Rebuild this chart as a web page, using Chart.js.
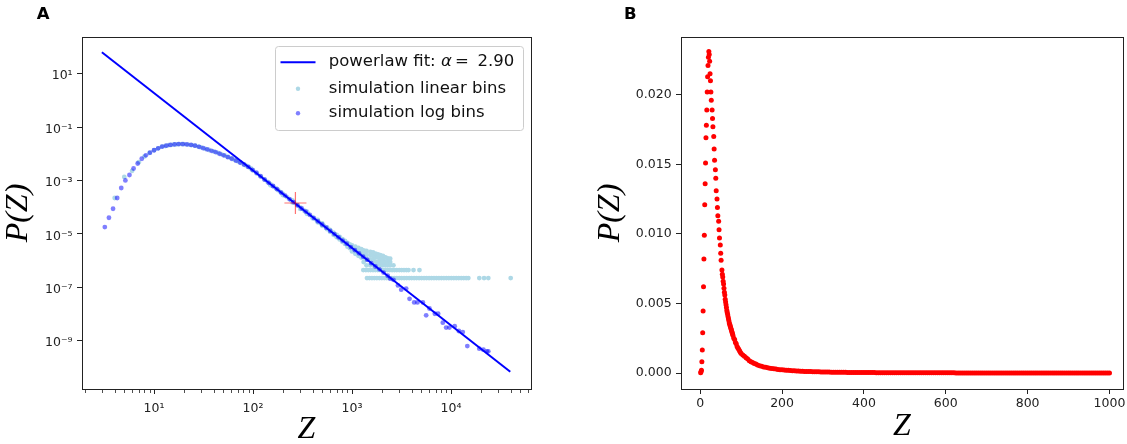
<!DOCTYPE html>
<html>
<head>
<meta charset="utf-8">
<title>P(Z)</title>
<script src="https://cdn.jsdelivr.net/npm/chart.js@4.4.1/dist/chart.umd.min.js"></script>
<style>
  html, body { margin: 0; padding: 0; background: #fff; }
  #wrap { position: relative; width: 1127px; height: 444px; overflow: hidden; }
  canvas { position: absolute; top: 0; }
</style>
</head>
<body>
<div id="wrap">
  <canvas id="chartA" width="563" height="444" style="left:0"></canvas>
  <canvas id="chartB" width="564" height="444" style="left:563px"></canvas>
</div>
<script>
// ---------------- DATA: panel A (log-log) ----------------
const fitLabel = 'powerlaw fit: α\u2009=\u2009 2.90';
const linLabel = 'simulation linear bins';
const logLabel = 'simulation log bins';

// powerlaw fit, two ends of the straight line
const fitZ = [2.97, 39700];
const fitP = [63, 6.85e-11];

// red cross
const crossZ = [268];
const crossP = [1.43e-4];

// log bins
const logZ = [3.18, 3.50, 3.85, 4.24, 4.66, 5.13, 5.64, 6.21, 6.83, 7.51, 8.26, 9.09, 10.0,
  11.0, 12.1, 13.3, 14.6, 16.1, 17.7, 19.5, 21.4, 23.6, 25.9, 28.5, 31.4, 34.5, 38.0, 41.8, 45.9,
  50.5, 55.6, 61.1, 67.3, 74.0, 81.4, 89.5, 98.5,
  108, 119, 131, 144, 159, 175, 192, 211, 233, 256, 281, 310, 340, 375, 412, 453, 499, 548,
  603, 664, 730, 803, 883, 972,
  1069, 1176, 1294, 1423, 1565, 1722, 1894, 2083, 2292,
  2432, 2624, 2911, 3141, 3524, 3811, 4246, 4581, 5200, 5610, 6053, 6871, 7413, 8260, 8933,
  9638, 10900, 12000, 13150, 14620, 19320, 21230, 22960, 23820];
const logP = [1.8e-5, 4.0e-5, 8.7e-5, 2.2e-4, 5.2e-4, 1.0e-3, 1.6e-3, 2.8e-3, 4.3e-3, 6.5e-3, 8.7e-3, 1.1e-2, 1.35e-2,
  1.6e-2, 1.86e-2, 2.0e-2, 2.14e-2, 2.24e-2, 2.29e-2, 2.29e-2, 2.24e-2, 2.14e-2, 2.0e-2, 1.82e-2, 1.62e-2, 1.45e-2, 1.29e-2, 1.15e-2, 1.0e-2,
  8.7e-3, 7.4e-3, 6.5e-3, 5.5e-3, 4.7e-3, 3.9e-3, 3.2e-3, 2.5e-3,
  1.95e-3, 1.45e-3, 1.07e-3, 8.1e-4, 6.2e-4, 4.7e-4, 3.5e-4, 2.7e-4, 2.0e-4, 1.55e-4, 1.17e-4, 8.9e-5, 6.8e-5, 5.1e-5, 3.9e-5, 2.95e-5, 2.24e-5, 1.7e-5,
  1.29e-5, 9.8e-6, 7.4e-6, 5.6e-6, 4.3e-6, 3.2e-6,
  2.45e-6, 1.86e-6, 1.4e-6, 1.07e-6, 8.0e-7, 6.0e-7, 4.7e-7, 3.55e-7, 2.7e-7,
  2.1e-7, 1.9e-7, 1.17e-7, 8.1e-8, 8.9e-8, 3.7e-8, 2.7e-8, 2.7e-8, 2.7e-8, 8.9e-9, 1.6e-8, 1.02e-8, 1.02e-8, 4.7e-9, 3.1e-9,
  3.1e-9, 3.5e-9, 2.3e-9, 2.1e-9, 6.3e-10, 5.0e-10, 4.6e-10, 4.0e-10, 4.0e-10];

// linear bins: along the curve
const curveZ = [4, 5, 6, 7, 8, 9, 10, 11, 12, 13, 14, 15, 16, 17, 18, 19, 20,
  22, 24, 26, 28, 30, 33, 36, 40, 44, 48, 52, 56, 60, 65, 70, 75, 80, 85, 90, 95,
  100, 110, 120, 130, 140, 150, 160, 170, 180, 190, 200, 220, 240, 260, 280, 300,
  330, 360, 400, 440, 480, 520];
const curveP = [2.2e-4, 1.35e-3, 2.3e-3, 4.8e-3, 7.9e-3, 1.07e-2, 1.35e-2, 1.6e-2, 1.86e-2, 1.95e-2, 2.09e-2, 2.16e-2, 2.24e-2, 2.26e-2, 2.29e-2, 2.29e-2, 2.28e-2,
  2.21e-2, 2.11e-2, 2.0e-2, 1.86e-2, 1.72e-2, 1.51e-2, 1.38e-2, 1.22e-2, 1.08e-2, 9.5e-3, 8.5e-3, 7.6e-3, 6.8e-3, 5.9e-3, 5.2e-3, 4.6e-3, 4.1e-3, 3.6e-3, 3.2e-3, 2.8e-3,
  2.36e-3, 1.79e-3, 1.39e-3, 1.1e-3, 8.9e-4, 7.3e-4, 6.0e-4, 5.06e-4, 4.28e-4, 3.66e-4, 3.15e-4, 2.39e-4, 1.86e-4, 1.47e-4, 1.19e-4, 9.7e-5,
  7.4e-5, 5.7e-5, 4.2e-5, 3.2e-5, 2.49e-5, 1.98e-5];
// linear bins: spread around the line
const haloZ = [150, 200, 250, 300, 350, 400, 450, 500, 250, 350, 450, 500];
const haloP = [6.6e-4, 2.85e-4, 1.5e-4, 8.6e-5, 5.6e-5, 3.8e-5, 2.7e-5, 2.0e-5, 1.8e-4, 6.8e-5, 3.3e-5, 2.45e-5];
// linear bins: the wide cloud before the single-count floor
const cloudZ = [560, 560, 600, 600, 650, 650, 700, 700, 750, 750, 800, 800, 850, 850, 900, 900, 950, 950,
  1000, 1000, 1000, 1080, 1080, 1080, 1160, 1160, 1160, 1240, 1240, 1240,
  1310, 1310, 1310, 1310, 1400, 1400, 1400, 1400, 1530, 1530, 1530, 1530, 1630, 1630, 1630, 1630,
  1730, 1730, 1730, 1730, 1830, 1830, 1830, 1830, 1930, 1930, 1930, 1930, 2050, 2050, 2050, 2050,
  2180, 2180, 2180, 2300, 2300, 2300, 2430, 2430, 2430, 2620];
const cloudP = [1.5e-5, 1.75e-5, 1.2e-5, 1.42e-5, 9.2e-6, 1.12e-5, 7.5e-6, 9.2e-6, 6.2e-6, 7.7e-6, 5.0e-6, 6.4e-6, 4.2e-6, 5.5e-6, 3.3e-6, 4.6e-6, 2.9e-6, 4.0e-6,
  2.2e-6, 2.9e-6, 3.7e-6, 1.8e-6, 2.5e-6, 3.3e-6, 1.5e-6, 2.2e-6, 3.0e-6, 1.3e-6, 2.0e-6, 2.7e-6,
  8.8e-7, 1.3e-6, 1.8e-6, 2.4e-6, 6.6e-7, 1.1e-6, 1.6e-6, 2.3e-6, 6.6e-7, 1.1e-6, 1.6e-6, 2.1e-6, 6.6e-7, 1.1e-6, 1.5e-6, 2.0e-6,
  6.6e-7, 8.8e-7, 1.3e-6, 1.8e-6, 6.6e-7, 8.8e-7, 1.3e-6, 1.7e-6, 6.6e-7, 8.8e-7, 1.1e-6, 1.58e-6, 6.6e-7, 8.8e-7, 1.1e-6, 1.5e-6,
  6.6e-7, 8.8e-7, 1.3e-6, 6.6e-7, 8.8e-7, 1.2e-6, 6.6e-7, 8.8e-7, 1.17e-6, 6.6e-7];
// linear bins: two-count and one-count floors
const band2P = 4.4e-7;
const band2Z = [1300, 1380, 1460, 1540, 1630, 1720, 1820, 1920, 2030, 2150, 2270, 2400, 2540, 2680,
  2830, 3000, 3170, 3350, 3540, 3720, 4180, 4800];
const band1P = 2.2e-7;
const band1Z = [1416, 1500, 1590, 1680, 1780, 1890, 2000, 2120, 2240, 2380, 2520, 2670, 2830, 3000,
  3170, 3360, 3560, 3780, 4000, 4240, 4490, 4760, 5040, 5340, 5660, 6000, 6350, 6730, 7130, 7550,
  8000, 8480, 8980, 9510, 10080, 10680, 11310, 11980, 12700, 13450, 14250, 14970,
  19320, 21580, 23820, 40100];

const xTickValsA = [10, 100, 1000, 10000];
const xTickLabelsA = ['10¹', '10²', '10³', '10⁴'];
const yTickValsA = [1e-9, 1e-7, 1e-5, 1e-3, 1e-1, 10];
const yTickLabelsA = ['10⁻⁹', '10⁻⁷', '10⁻⁵', '10⁻³', '10⁻¹', '10¹'];

// ---------------- DATA: panel B (linear) ----------------
const bHeadZ = [1, 2, 3, 4, 5, 6, 7, 8, 9, 10, 11, 12, 13, 14, 15, 16, 17, 18, 19, 20, 21,
  22, 23, 24, 25, 26, 27, 29, 30, 31, 33, 34, 35, 37, 38, 39, 41, 42, 43, 45, 46, 47, 49, 50, 51,
  53, 54, 55, 56, 57, 58, 59, 60, 61, 62, 63, 64, 65, 66, 67, 68, 69, 70, 71, 72, 73, 74, 75, 76, 77, 78, 79, 80,
  82, 84, 86, 88, 90, 92, 94, 96, 98, 100,
  104, 108, 112, 116, 120, 124, 128, 132, 136, 140, 145, 150, 155, 160, 165, 170, 175, 180, 185, 190, 195, 200];
const bHeadP = [0.00002, 0.00009, 0.0002, 0.0008, 0.00165, 0.0029, 0.00445, 0.0062, 0.0082, 0.0099, 0.0121, 0.0136, 0.0151, 0.0169, 0.0178, 0.0189, 0.0202, 0.0213, 0.0221, 0.0227, 0.0231,
  0.0229, 0.0224, 0.0215, 0.0210, 0.0202, 0.0196, 0.0189, 0.0183, 0.0177, 0.0170, 0.0161, 0.0153, 0.0146, 0.0140, 0.0131, 0.0125, 0.0119, 0.0113, 0.0109, 0.0103, 0.0097, 0.0092, 0.0086, 0.0081,
  0.0074, 0.0071, 0.0069, 0.0066, 0.0064, 0.0061, 0.0058, 0.0056, 0.0053, 0.0051, 0.0049, 0.0047, 0.0045, 0.00435, 0.0042, 0.00405, 0.0039, 0.00375, 0.0036, 0.0035, 0.0034, 0.0033, 0.0032, 0.0031, 0.0030, 0.0029, 0.0028, 0.0027,
  0.0025, 0.0024, 0.0022, 0.0021, 0.0019, 0.0018, 0.0017, 0.0016, 0.0015, 0.0014,
  0.0013, 0.0012, 0.0011, 0.0010, 0.00088, 0.00081, 0.00075, 0.00069, 0.00064, 0.00058, 0.00053, 0.00048, 0.00044, 0.00041, 0.00038, 0.00035, 0.00032, 0.00030, 0.00028, 0.00026, 0.00024, 0.00023];
const bTailZ = [205, 210, 215, 220, 225, 230, 235, 240, 245, 250, 255, 260, 265, 270, 275, 280, 285, 290, 295, 300,
  305, 310, 315, 320, 325, 330, 335, 340, 345, 350, 355, 360, 365, 370, 375, 380, 385, 390, 395, 400,
  405, 410, 415, 420, 425, 430, 435, 440, 445, 450, 455, 460, 465, 470, 475, 480, 485, 490, 495, 500,
  505, 510, 515, 520, 525, 530, 535, 540, 545, 550, 555, 560, 565, 570, 575, 580, 585, 590, 595, 600,
  605, 610, 615, 620, 625, 630, 635, 640, 645, 650, 655, 660, 665, 670, 675, 680, 685, 690, 695, 700,
  705, 710, 715, 720, 725, 730, 735, 740, 745, 750, 755, 760, 765, 770, 775, 780, 785, 790, 795, 800,
  805, 810, 815, 820, 825, 830, 835, 840, 845, 850, 855, 860, 865, 870, 875, 880, 885, 890, 895, 900,
  905, 910, 915, 920, 925, 930, 935, 940, 945, 950, 955, 960, 965, 970, 975, 980, 985, 990, 995, 1000];
const bTailP = [2.15e-4, 2.0e-4, 1.9e-4, 1.8e-4, 1.7e-4, 1.6e-4, 1.5e-4, 1.4e-4, 1.3e-4, 1.2e-4, 1.15e-4, 1.1e-4, 1.05e-4, 1.0e-4, 9.5e-5, 9.0e-5, 8.6e-5, 8.2e-5, 7.8e-5, 7.5e-5,
  7.1e-5, 6.8e-5, 6.5e-5, 6.2e-5, 5.9e-5, 5.7e-5, 5.4e-5, 5.2e-5, 5.0e-5, 4.8e-5, 4.6e-5, 4.4e-5, 4.25e-5, 4.1e-5, 3.95e-5, 3.8e-5, 3.65e-5, 3.5e-5, 3.35e-5, 3.2e-5,
  3.1e-5, 3.0e-5, 2.9e-5, 2.8e-5, 2.7e-5, 2.6e-5, 2.5e-5, 2.4e-5, 2.35e-5, 2.3e-5, 2.2e-5, 2.1e-5, 2.05e-5, 2.0e-5, 1.95e-5, 1.9e-5, 1.85e-5, 1.8e-5, 1.75e-5, 1.7e-5,
  1.65e-5, 1.6e-5, 1.55e-5, 1.5e-5, 1.45e-5, 1.4e-5, 1.38e-5, 1.35e-5, 1.32e-5, 1.3e-5, 1.25e-5, 1.2e-5, 1.18e-5, 1.15e-5, 1.12e-5, 1.1e-5, 1.08e-5, 1.05e-5, 1.02e-5, 1.0e-5,
  9.7e-6, 9.5e-6, 9.3e-6, 9.1e-6, 8.9e-6, 8.7e-6, 8.5e-6, 8.3e-6, 8.1e-6, 7.9e-6, 7.7e-6, 7.6e-6, 7.4e-6, 7.3e-6, 7.1e-6, 7.0e-6, 6.8e-6, 6.7e-6, 6.5e-6, 6.4e-6,
  6.2e-6, 6.1e-6, 6.0e-6, 5.9e-6, 5.8e-6, 5.7e-6, 5.6e-6, 5.5e-6, 5.4e-6, 5.3e-6, 5.2e-6, 5.1e-6, 5.0e-6, 4.9e-6, 4.8e-6, 4.7e-6, 4.6e-6, 4.5e-6, 4.45e-6, 4.4e-6,
  4.3e-6, 4.2e-6, 4.15e-6, 4.1e-6, 4.0e-6, 3.9e-6, 3.85e-6, 3.8e-6, 3.75e-6, 3.7e-6, 3.6e-6, 3.5e-6, 3.45e-6, 3.4e-6, 3.35e-6, 3.3e-6, 3.25e-6, 3.2e-6, 3.15e-6, 3.1e-6,
  3.05e-6, 3.0e-6, 2.95e-6, 2.9e-6, 2.85e-6, 2.8e-6, 2.75e-6, 2.7e-6, 2.68e-6, 2.65e-6, 2.62e-6, 2.6e-6, 2.55e-6, 2.5e-6, 2.45e-6, 2.4e-6, 2.38e-6, 2.35e-6, 2.32e-6, 2.3e-6];

const xTickValsB = [0, 200, 400, 600, 800, 1000];
const xTickLabelsB = ['0', '200', '400', '600', '800', '1000'];
const yTickValsB = [0, 0.005, 0.010, 0.015, 0.020];
const yTickLabelsB = ['0.000', '0.005', '0.010', '0.015', '0.020'];

// ---------------- HELPERS ----------------
function pts(xs, ys) {
  return xs.map((x, i) => ({ x: x, y: Array.isArray(ys) ? ys[i] : ys }));
}

Chart.defaults.font.family = "'DejaVu Sans', sans-serif";
Chart.defaults.color = '#222';

const tickFont = { size: 12.5 };
const titleFont = { family: "'Liberation Serif', serif", size: 32, style: 'italic', lineHeight: 1 };
const gridOpts = { drawOnChartArea: false, drawTicks: true, tickLength: 5, color: '#222', lineWidth: 1 };

// axes box on all four sides
const frame = {
  id: 'frame',
  afterDatasetsDraw(chart) {
    const { ctx, chartArea: a } = chart;
    const l = Math.round(a.left), t = Math.round(a.top), r = Math.round(a.right), b = Math.round(a.bottom);
    ctx.save();
    ctx.strokeStyle = '#222';
    ctx.lineWidth = 1;
    ctx.strokeRect(l + 0.5, t + 0.5, r - l, b - t);
    ctx.restore();
  }
};

// short minor ticks on the log x axis
const minorTicks = {
  id: 'minorTicks',
  afterDraw(chart) {
    const sc = chart.scales.x, ctx = chart.ctx;
    ctx.save();
    ctx.strokeStyle = '#222';
    ctx.lineWidth = 0.8;
    for (let e = 0; e <= 4; e++) {
      for (let m = 2; m <= 9; m++) {
        const v = m * Math.pow(10, e);
        if (v < sc.min || v > sc.max) continue;
        const px = Math.round(sc.getPixelForValue(v)) + 0.5;
        ctx.beginPath();
        ctx.moveTo(px, sc.top + 1);
        ctx.lineTo(px, sc.top + 4);
        ctx.stroke();
      }
    }
    ctx.restore();
  }
};

// "A" / "B"
const panelLetter = {
  id: 'panelLetter',
  afterDraw(chart, args, o) {
    const ctx = chart.ctx;
    ctx.save();
    ctx.font = "bold 16.5px 'DejaVu Sans'";
    ctx.fillStyle = '#000';
    ctx.textBaseline = 'alphabetic';
    ctx.fillText(o.text, o.x, o.y);
    ctx.restore();
  }
};

// label text, alpha drawn in italic
function labelText(ctx, text, x, y, fs, draw) {
  const i = text.indexOf('α');
  const parts = i < 0 ? [[text, '']] : [[text.slice(0, i), ''], ['α', 'italic '], [text.slice(i + 1), '']];
  let w = 0;
  parts.forEach(p => {
    ctx.font = p[1] + fs + "px 'DejaVu Sans'";
    if (draw) ctx.fillText(p[0], x + w, y);
    w += ctx.measureText(p[0]).width;
  });
  return w;
}

// matplotlib-like legend box inside the axes
const boxLegend = {
  id: 'boxLegend',
  afterDatasetsDraw(chart, args, o) {
    const { ctx, chartArea: a } = chart;
    const items = chart.data.datasets.filter(d => d.legendRow !== undefined)
      .sort((p, q) => p.legendRow - q.legendRow);
    ctx.save();
    let tw = 0;
    items.forEach(d => { tw = Math.max(tw, labelText(ctx, d.label, 0, 0, o.fontSize, false)); });
    const w = o.padLeft + o.handle + o.textGap + tw + o.padRight;
    const right = Math.round(a.right - o.gap) + 0.5;
    const top = Math.round(a.top + o.gap) + 0.5;
    const left = right - Math.round(w);
    const h = o.height, r = o.radius;
    ctx.beginPath();
    ctx.moveTo(left + r, top);
    ctx.lineTo(right - r, top);
    ctx.arcTo(right, top, right, top + r, r);
    ctx.lineTo(right, top + h - r);
    ctx.arcTo(right, top + h, right - r, top + h, r);
    ctx.lineTo(left + r, top + h);
    ctx.arcTo(left, top + h, left, top + h - r, r);
    ctx.lineTo(left, top + r);
    ctx.arcTo(left, top, left + r, top, r);
    ctx.closePath();
    ctx.fillStyle = 'rgba(255,255,255,0.8)';
    ctx.fill();
    ctx.strokeStyle = '#cccccc';
    ctx.lineWidth = 1;
    ctx.stroke();
    items.forEach((d, i) => {
      const y = top + o.rows[i];
      const hx = left + o.padLeft;
      if (d.showLine) {
        ctx.strokeStyle = d.borderColor;
        ctx.lineWidth = d.borderWidth;
        ctx.beginPath();
        ctx.moveTo(hx, y);
        ctx.lineTo(hx + o.handle, y);
        ctx.stroke();
      } else {
        ctx.fillStyle = d.backgroundColor;
        ctx.beginPath();
        ctx.arc(hx + o.handle / 2, y, o.markerRadius, 0, Math.PI * 2);
        ctx.fill();
      }
      ctx.fillStyle = '#111';
      ctx.textBaseline = 'middle';
      labelText(ctx, d.label, hx + o.handle + o.textGap, y, o.fontSize, true);
    });
    ctx.restore();
  }
};

// ---------------- CHART A ----------------
const linPoints = [].concat(
  pts(curveZ, curveP), pts(haloZ, haloP), pts(cloudZ, cloudP),
  pts(band2Z, band2P), pts(band1Z, band1P)
);

new Chart(document.getElementById('chartA'), {
  type: 'scatter',
  data: {
    datasets: [
      {
        label: 'fit point',
        data: pts(crossZ, crossP),
        pointStyle: 'cross', pointRadius: 11, borderColor: 'rgba(255,0,0,0.55)',
        borderWidth: 1.2, order: 1
      },
      {
        label: fitLabel, legendRow: 0,
        data: pts(fitZ, fitP), showLine: true, pointRadius: 0,
        borderColor: '#0000ff', borderWidth: 2, order: 2
      },
      {
        label: logLabel, legendRow: 2,
        data: pts(logZ, logP), pointRadius: 2.4, borderWidth: 0,
        backgroundColor: 'rgba(0,0,255,0.5)', order: 3
      },
      {
        label: linLabel, legendRow: 1,
        data: linPoints, pointRadius: 2.4, borderWidth: 0,
        backgroundColor: '#add8e6', order: 4
      }
    ]
  },
  options: {
    responsive: false,
    animation: false,
    devicePixelRatio: 1,
    events: [],
    layout: { padding: { left: 0, top: 37, right: 32, bottom: 0 } },
    scales: {
      x: {
        type: 'logarithmic', min: 1.87, max: 64300, bounds: 'data',
        afterBuildTicks: s => { s.ticks = xTickValsA.map(v => ({ value: v })); },
        afterFit: s => { s.height = 55; s.paddingLeft = 0; s.paddingRight = 0; },
        grid: gridOpts, border: { display: false },
        ticks: { autoSkip: false, maxRotation: 0, padding: 6.8, font: tickFont, callback: (v, i) => xTickLabelsA[i] },
        title: { display: true, text: 'Z', font: titleFont, color: '#000', padding: { top: 0, bottom: -1.2 } }
      },
      y: {
        type: 'logarithmic', min: 1.55e-11, max: 235, bounds: 'data',
        afterBuildTicks: s => { s.ticks = yTickValsA.map(v => ({ value: v })); },
        afterFit: s => { s.width = 82; s.paddingTop = 0; s.paddingBottom = 0; },
        grid: gridOpts, border: { display: false },
        ticks: { autoSkip: false, padding: 4.4, labelOffset: 2.5, font: tickFont, callback: (v, i) => yTickLabelsA[i] },
        title: { display: true, text: 'P(Z)', font: titleFont, color: '#000', padding: { top: 2.7, bottom: 0 } }
      }
    },
    plugins: {
      legend: { display: false },
      tooltip: { enabled: false },
      panelLetter: { text: 'A', x: 36.7, y: 19.3 },
      boxLegend: {
        fontSize: 16.5, gap: 8.5, padLeft: 5, handle: 35, textGap: 13.3, padRight: 9,
        height: 84, rows: [15.7, 42.3, 66.7], radius: 3, markerRadius: 2.2
      }
    }
  },
  plugins: [frame, minorTicks, boxLegend, panelLetter]
});

// ---------------- CHART B ----------------
new Chart(document.getElementById('chartB'), {
  type: 'scatter',
  data: {
    datasets: [
      {
        label: linLabel,
        data: pts(bHeadZ, bHeadP).concat(pts(bTailZ, bTailP)),
        pointRadius: 2.5, borderWidth: 0, backgroundColor: '#ff0000'
      }
    ]
  },
  options: {
    responsive: false,
    animation: false,
    devicePixelRatio: 1,
    events: [],
    layout: { padding: { left: 0, top: 37, right: 4, bottom: 0 } },
    scales: {
      x: {
        type: 'linear', min: -47, max: 1033, bounds: 'data',
        afterBuildTicks: s => { s.ticks = xTickValsB.map(v => ({ value: v })); },
        afterFit: s => { s.height = 55; s.paddingLeft = 0; s.paddingRight = 0; },
        grid: gridOpts, border: { display: false },
        ticks: { autoSkip: false, maxRotation: 0, padding: 2.3, font: tickFont, callback: (v, i) => xTickLabelsB[i] },
        title: { display: true, text: 'Z', font: titleFont, color: '#000', padding: { top: 0, bottom: 1.3 } }
      },
      y: {
        type: 'linear', min: -0.00115, max: 0.02415, bounds: 'data',
        afterBuildTicks: s => { s.ticks = yTickValsB.map(v => ({ value: v })); },
        afterFit: s => { s.width = 118; s.paddingTop = 0; s.paddingBottom = 0; },
        grid: gridOpts, border: { display: false },
        ticks: { autoSkip: false, padding: 4.4, font: tickFont, callback: (v, i) => yTickLabelsB[i] },
        title: { display: true, text: 'P(Z)', font: titleFont, color: '#000', padding: { top: 32, bottom: 0 } }
      }
    },
    plugins: {
      legend: { display: false },
      tooltip: { enabled: false },
      panelLetter: { text: 'B', x: 61, y: 18.7 }
    }
  },
  plugins: [frame, panelLetter]
});
</script>
</body>
</html>
